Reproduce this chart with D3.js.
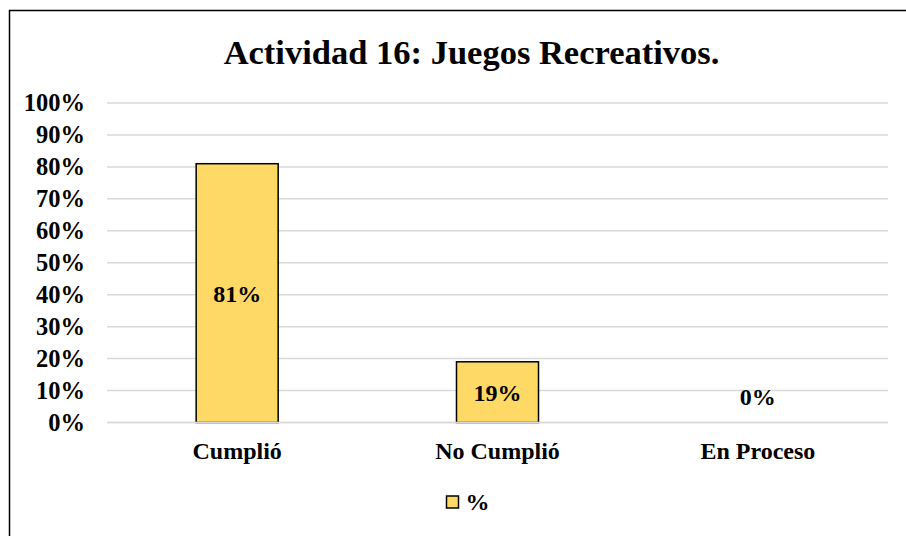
<!DOCTYPE html>
<html>
<head>
<meta charset="utf-8">
<script src="https://cdn.jsdelivr.net/npm/d3@7"></script>
<style>
  body { margin: 0; background: #fff; }
  text { font-family: "Liberation Serif", "Times New Roman", serif; font-weight: bold; fill: #000; }
</style>
</head>
<body>
<div id="chart"></div>
<script>
// Chart values
const categories = ["Cumplió", "No Cumplió", "En Proceso"];
const values = [0.81, 0.19, 0.0];
const yTicks = [0, 0.1, 0.2, 0.3, 0.4, 0.5, 0.6, 0.7, 0.8, 0.9, 1.0];
const seriesName = "%";
const title = "Actividad 16: Juegos Recreativos.";

const W = 906, H = 536;
const margin = { top: 103, right: 18, bottom: 113.5, left: 107 },
    width = W - margin.left - margin.right,
    height = H - margin.top - margin.bottom;

const svg = d3.select("#chart").append("svg")
    .attr("width", W)
    .attr("height", H);

// outer frame (runs off the right/bottom of the window)
svg.append("rect")
    .attr("x", 9.5).attr("y", 10.5)
    .attr("width", 1000).attr("height", 600)
    .attr("fill", "none")
    .attr("stroke", "#000")
    .attr("stroke-width", 1.5);

svg.append("text")
    .attr("x", 471.5).attr("y", 64)
    .attr("text-anchor", "middle")
    .style("font-size", "34.5px")
    .text(title);

const g = svg.append("g").attr("transform", `translate(${margin.left},${margin.top})`);

const x = d3.scaleBand().domain(categories).range([0, width]).paddingInner(0.685).paddingOuter(0.3425);
const y = d3.scaleLinear().domain([0, 1]).range([height, 0]);

// gridlines
g.selectAll(".grid").data(yTicks).enter()
    .append("line")
    .attr("x1", 0).attr("x2", width)
    .attr("y1", d => y(d)).attr("y2", d => y(d))
    .attr("stroke", "#d9d9d9")
    .attr("stroke-width", 1.5);

// y axis labels
const yAxis = g.append("g")
    .call(d3.axisLeft(y).tickValues(yTicks).tickFormat(d3.format(".0%")).tickSize(0).tickPadding(22));
yAxis.select(".domain").remove();
yAxis.selectAll("text")
    .style("font-size", "24.5px")
    .attr("font-family", null)
    .attr("dy", "0.32em");

// x axis labels
const xAxis = g.append("g")
    .attr("transform", `translate(0,${height})`)
    .call(d3.axisBottom(x).tickSize(0).tickPadding(19));
xAxis.select(".domain").remove();
xAxis.selectAll("text")
    .style("font-size", "24px")
    .attr("font-family", null)
    .attr("dy", "0.71em");

// bars
g.selectAll(".bar").data(values).enter()
    .append("rect")
    .attr("class", "bar")
    .attr("x", (d, i) => x(categories[i]))
    .attr("y", d => y(d))
    .attr("width", x.bandwidth())
    .attr("height", d => height - y(d))
    .attr("fill", "#ffd966")
    .attr("stroke", d => d > 0 ? "#000" : "none")
    .attr("stroke-width", 1.5);

// bottom edge of bars shows the gridline
g.append("line")
    .attr("x1", 0).attr("x2", width)
    .attr("y1", y(0)).attr("y2", y(0))
    .attr("stroke", "#d9d9d9")
    .attr("stroke-width", 1.5);

// value labels
g.selectAll(".bar-label").data(values).enter()
    .append("text")
    .attr("class", "bar-label")
    .attr("x", (d, i) => x(categories[i]) + x.bandwidth() / 2)
    .attr("y", d => d > 0 ? (y(d) + y(0)) / 2 : y(0.08))
    .attr("dy", "0.35em")
    .attr("text-anchor", "middle")
    .style("font-size", "24px")
    .text(d => d3.format(".0%")(d));

// legend
const lg = svg.append("g").attr("transform", "translate(446.5,496)");
lg.append("rect")
    .attr("width", 12).attr("height", 12)
    .attr("fill", "#ffd966")
    .attr("stroke", "#000")
    .attr("stroke-width", 1.5);
lg.append("text")
    .attr("x", 19).attr("y", 14)
    .style("font-size", "24px")
    .text(seriesName);
</script>
</body>
</html>
